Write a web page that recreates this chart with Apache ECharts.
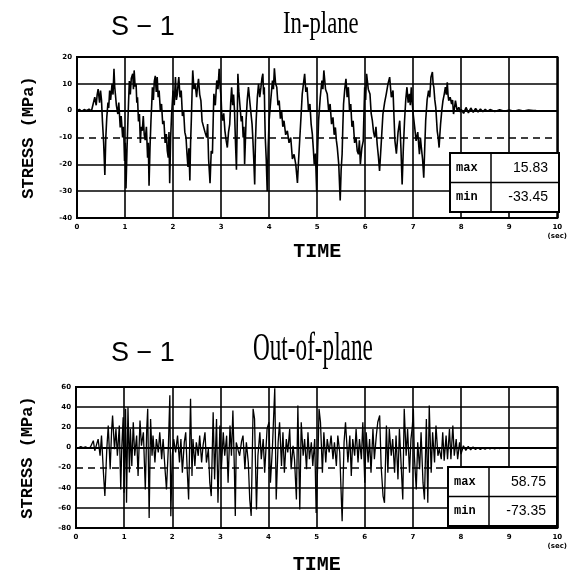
<!DOCTYPE html>
<html><head><meta charset="utf-8">
<script src="https://cdn.jsdelivr.net/npm/echarts@6/dist/echarts.min.js"></script>
<style>html,body{margin:0;padding:0;background:#fff}#c{width:570px;height:578px}</style>
</head><body><div id="c"></div>
<script>
// ---- data ----
const timeTicks = [0,1,2,3,4,5,6,7,8,9,10];
const inPlaneGridValues = [10, 0, -10, -20, -30];
const outPlaneGridValues = [40, 20, 0, -20, -40, -60];
const statLabels = ['max', 'min'];
const inPlaneStats = ['15.83', '-33.45'];
const outPlaneStats = ['58.75', '-73.35'];

const inPlanePoints = [
[0,0],[0.05,0.5],[0.1,-0.3],[0.15,0.4],[0.2,0],[0.25,0.6],[0.3,-0.2],[0.34,0.3],
[0.37,5],[0.40,2],[0.42,6],[0.44,8],[0.47,3],[0.49,7.5],[0.51,4],[0.53,-4],[0.555,-12],[0.58,-24],[0.60,-10],[0.62,-2.5],[0.645,3],[0.66,1],[0.68,7.5],[0.70,4],[0.73,10],[0.75,6],[0.77,15.6],[0.785,9],[0.80,8.75],[0.82,2],[0.85,-1.25],[0.87,3],[0.90,-6.25],[0.92,-2],[0.95,-10],[0.97,-6],[0.99,-18.75],[1.005,-12],[1.02,-29],[1.04,-15],[1.06,-3.75],[1.075,4],[1.09,11],[1.11,6],[1.13,12],[1.16,13.75],[1.175,8],[1.19,15],[1.21,9],[1.23,10],[1.245,3],[1.26,5],[1.28,-4],[1.30,-1.25],[1.32,-12],[1.335,-6],[1.36,-7.5],[1.38,-2],[1.40,-9],[1.42,-11],[1.445,-6],[1.47,-17.5],[1.485,-12],[1.50,-28],[1.52,-14],[1.54,-3.75],[1.555,2],[1.57,8.75],[1.59,4],[1.61,11],[1.63,13],[1.65,7],[1.67,12.5],[1.69,5],[1.71,7.5],[1.735,0],[1.76,2.5],[1.785,-5],[1.81,-3.75],[1.835,-12],[1.86,-8.75],[1.88,-15],[1.90,-17.5],[1.915,-8],[1.93,-27],[1.95,-10],[1.97,-1.25],[1.985,3],[2.00,7.5],[2.025,2],[2.05,12.5],[2.07,4],[2.09,6.25],[2.105,10],[2.12,12.5],[2.145,5],[2.17,7.5],[2.195,-2],[2.22,0],[2.245,-8],[2.27,-10],[2.29,-16],[2.31,-21],[2.33,-14],[2.35,-26],[2.365,-12],[2.38,-3.75],[2.395,6],[2.41,15],[2.435,8],[2.46,10],[2.49,5],[2.51,9],[2.53,11.9],[2.555,6],[2.58,3.75],[2.605,-4],[2.63,-3.75],[2.665,-8],[2.70,-10],[2.72,-5],[2.74,-18],[2.77,-27],[2.795,-15],[2.82,-16],[2.835,-4],[2.85,6.25],[2.88,2],[2.91,11.25],[2.935,8],[2.96,15.6],[2.98,9],[3.00,5],[3.015,-2],[3.03,-3.75],[3.055,-1],[3.08,-7.5],[3.105,-11],[3.13,-13.75],[3.155,-8],[3.18,-5],[3.20,3],[3.22,8.75],[3.24,2],[3.26,6],[3.28,0],[3.30,-12],[3.32,-22],[3.335,-6],[3.35,13.75],[3.37,7],[3.39,2.5],[3.42,-4],[3.44,-2],[3.46,-10],[3.475,-6],[3.49,-20],[3.505,-12],[3.52,-3.75],[3.545,4],[3.57,8.75],[3.60,3],[3.63,2.5],[3.645,-5],[3.66,-10],[3.68,-18],[3.70,-27.5],[3.715,-12],[3.73,-3.75],[3.755,5],[3.78,10],[3.805,5],[3.83,8.75],[3.85,12],[3.87,13.75],[3.885,6],[3.90,8.75],[3.91,-2],[3.92,-10],[3.94,-18],[3.96,-30],[3.98,-14],[4.00,-3.75],[4.035,4],[4.07,11.25],[4.09,8],[4.11,15.83],[4.135,10],[4.16,8.75],[4.185,2],[4.21,3.75],[4.235,-3],[4.26,0],[4.285,-6],[4.31,-3.75],[4.345,-9],[4.38,-7.5],[4.415,-12],[4.45,-10],[4.485,-18],[4.52,-16.25],[4.555,-20],[4.59,-26.9],[4.615,-18],[4.64,-10],[4.665,-2],[4.69,6.25],[4.715,10],[4.74,13.75],[4.765,7],[4.79,8.75],[4.82,0],[4.85,2.5],[4.875,-5],[4.90,-8.75],[4.92,-14],[4.94,-20],[4.965,-16],[4.99,-30],[5.01,-15],[5.03,-3.75],[5.065,5],[5.10,11.25],[5.12,8],[5.14,15],[5.175,8],[5.21,6.25],[5.24,0],[5.27,2.5],[5.30,-5],[5.33,-2.5],[5.355,-9],[5.38,-6.25],[5.40,-11],[5.42,-13.75],[5.45,-20],[5.48,-33.45],[5.50,-22],[5.52,-16.25],[5.535,-6],[5.55,2.5],[5.575,8],[5.60,11.9],[5.625,5],[5.65,8.75],[5.675,0],[5.70,2.5],[5.725,-6],[5.75,-3.75],[5.78,-12],[5.81,-10],[5.835,-15],[5.86,-16.25],[5.88,-11],[5.90,-20],[5.93,-14],[5.96,-11.25],[5.975,-1],[5.99,8.75],[6.01,4],[6.03,13.75],[6.065,8],[6.10,6.25],[6.125,-1],[6.15,-3.75],[6.175,-8],[6.20,-10],[6.225,-6],[6.25,-12.5],[6.275,-17],[6.30,-22.5],[6.335,-12],[6.37,-1.25],[6.405,3],[6.44,6.25],[6.475,10],[6.51,12.5],[6.545,5],[6.58,7.5],[6.60,-2],[6.62,-11.25],[6.65,-16],[6.685,-8],[6.72,-3.75],[6.745,-14],[6.77,-27.5],[6.795,-14],[6.82,-3.75],[6.845,4],[6.87,8.75],[6.895,3],[6.92,6.25],[6.94,2],[6.96,8.75],[6.98,3],[7.00,-1.25],[7.03,-6],[7.06,-11.25],[7.095,-8],[7.13,-16.25],[7.15,-10],[7.17,-13.75],[7.195,-18],[7.22,-25],[7.24,-14],[7.26,-3.75],[7.29,4],[7.32,7.5],[7.345,5],[7.37,12.5],[7.40,14.4],[7.415,10],[7.43,8.75],[7.45,4],[7.47,1.25],[7.485,-3],[7.50,-7.5],[7.52,-10],[7.54,-13.75],[7.555,-9],[7.57,-5],[7.595,0],[7.62,3.75],[7.645,6],[7.67,8.75],[7.69,6],[7.71,10.6],[7.725,6],[7.74,3.75],[7.77,5],[7.80,2.5],[7.82,4],[7.84,-1.25],[7.86,1],[7.88,3.75],[7.915,0],[7.95,1.25],[7.98,-0.5],[8.00,0.5],[8.05,-1],[8.1,1.2],[8.15,-0.8],[8.2,1],[8.25,-0.6],[8.3,0.8],[8.35,-0.5],[8.4,0.6],[8.45,-0.4],[8.5,0.5],[8.55,-0.3],[8.6,0.4],[8.7,-0.3],[8.8,0.3],[8.9,-0.2],[9.0,0.2],[9.1,-0.2],[9.2,0.2],[9.3,-0.1],[9.4,0.2],[9.5,0],[9.56,0]
];

const outPlanePoints = [
[0,0],[0.05,-0.5],[0.1,0.8],[0.15,-0.3],[0.2,0.5],[0.25,-0.8],[0.3,0.4],[0.325,0],
[0.36,6.7],[0.39,-3.3],[0.43,3.3],[0.46,8.3],[0.50,-8.3],[0.53,11.7],[0.57,-25],[0.60,-48.3],[0.64,-1.7],[0.67,21.7],[0.71,-21.7],[0.74,16.7],[0.76,31.7],[0.80,-1.7],[0.83,18.3],[0.86,-8.3],[0.90,21.7],[0.93,-41.7],[0.95,-1.7],[0.98,30],[1.00,-45],[1.03,38.3],[1.05,-55],[1.08,40],[1.11,-25],[1.13,18.3],[1.16,-18.3],[1.19,25],[1.22,-8.3],[1.26,11.7],[1.29,-28.3],[1.33,26.7],[1.36,1.7],[1.40,15],[1.44,-41.7],[1.47,18.3],[1.49,38.3],[1.52,-70],[1.55,28.3],[1.58,-8.3],[1.60,11.7],[1.64,-15],[1.67,8.3],[1.71,-5],[1.74,15],[1.78,-11.7],[1.81,8.3],[1.85,-21.7],[1.88,-41.7],[1.92,1.7],[1.95,51.7],[1.97,-68.3],[2.00,-8.3],[2.03,8.3],[2.07,-5],[2.11,11.7],[2.15,-15],[2.18,8.3],[2.21,-25],[2.25,5],[2.28,15],[2.31,-21.7],[2.34,-51.7],[2.38,48.3],[2.41,-28.3],[2.43,8.3],[2.47,-18.3],[2.50,5],[2.54,-8.3],[2.57,11.7],[2.61,-15],[2.64,1.7],[2.68,15],[2.71,-15],[2.75,-1.7],[2.78,-35],[2.81,-48.3],[2.85,35],[2.88,-31.7],[2.92,28.3],[2.95,-55],[2.99,21.7],[3.02,-21.7],[3.06,15],[3.09,-8.3],[3.13,11.7],[3.16,-35],[3.20,21.7],[3.23,-8.3],[3.26,36.7],[3.29,-20],[3.31,-68],[3.33,5],[3.37,-3],[3.40,-8.3],[3.44,6],[3.47,11.7],[3.51,-21.7],[3.54,5],[3.58,-15],[3.61,-51.7],[3.64,-68],[3.68,38.3],[3.71,28.3],[3.75,-61.7],[3.78,-8.3],[3.82,15],[3.85,-11.7],[3.89,8.3],[3.92,-25],[3.97,18.3],[4.01,25],[4.04,-35],[4.08,-1.7],[4.13,58.75],[4.16,-51.7],[4.20,5],[4.23,25],[4.27,-18.3],[4.30,15],[4.33,-25],[4.37,8.3],[4.40,-5],[4.44,18.3],[4.47,-21.7],[4.51,1.7],[4.54,-11.7],[4.58,-51.7],[4.61,41.7],[4.65,-61.7],[4.68,25],[4.72,-8.3],[4.75,8.3],[4.79,-21.7],[4.82,15],[4.85,-11.7],[4.89,5],[4.92,-18.3],[4.96,8.3],[4.99,-65],[5.03,-5],[5.05,38.3],[5.08,25],[5.12,-25],[5.15,15],[5.19,-15],[5.22,8.3],[5.26,-5],[5.30,11.7],[5.34,-11.7],[5.37,5],[5.41,-18.3],[5.44,11.7],[5.48,-5],[5.53,-73.35],[5.57,5],[5.60,25],[5.65,-15],[5.69,11.7],[5.72,-28.3],[5.75,8.3],[5.79,-8.3],[5.82,18.3],[5.86,-15],[5.89,8.3],[5.93,-11.7],[5.96,25],[6.00,-35],[6.03,15],[6.07,-15],[6.10,8.3],[6.13,-25],[6.17,18.3],[6.20,-11.7],[6.24,11.7],[6.27,25],[6.31,31.7],[6.34,-18.3],[6.38,-48.3],[6.41,-55],[6.45,21.7],[6.48,-25],[6.51,18.3],[6.55,-8.3],[6.58,8.3],[6.62,-25],[6.65,11.7],[6.69,-31.7],[6.72,18.3],[6.76,-21.7],[6.79,-51.7],[6.82,38.3],[6.86,-8.3],[6.89,18.3],[6.93,-25],[6.96,8.3],[6.99,21.7],[7.01,38.3],[7.03,-8.3],[7.07,-41.7],[7.10,5],[7.14,-21.7],[7.17,15],[7.21,-35],[7.24,-51.7],[7.28,28.3],[7.31,-55],[7.34,41.7],[7.38,-25],[7.41,15],[7.45,-15],[7.48,21.7],[7.52,-8.3],[7.55,-1.7],[7.59,-11.7],[7.62,15],[7.65,-13.3],[7.69,11.7],[7.72,-11.7],[7.76,18.3],[7.79,-11.7],[7.83,21.7],[7.86,-8.3],[7.90,8.3],[7.93,-11.7],[7.97,5],[8.00,-6.7],[8.05,1.7],[8.1,-3],[8.15,1],[8.2,-2.5],[8.25,0.5],[8.3,-2],[8.35,0],[8.4,-2],[8.45,-0.5],[8.5,-1.8],[8.55,-0.3],[8.6,-1.5],[8.65,-0.5],[8.7,-1.5],[8.75,-0.5],[8.8,-1.2],[8.85,-0.5],[8.9,-1],[8.95,-0.6],[9.0,-0.8]
];

// ---- styling / layout ----
const mono = "'Liberation Mono', 'DejaVu Sans Mono', monospace";
const serif = "'Liberation Serif', 'DejaVu Serif', serif";
const sans = "'Liberation Sans', 'DejaVu Sans', sans-serif";
const tickFont = { fontSize: 7, fontWeight: 'bold', color: '#000', fontFamily: "'DejaVu Sans', sans-serif" };

function xAxisCfg(gridIndex, nameGap) {
  return {
    type: 'value', gridIndex, min: timeTicks[0], max: timeTicks[timeTicks.length - 1], interval: 1,
    name: 'TIME', nameLocation: 'middle', nameGap,
    nameTextStyle: { fontFamily: mono, fontWeight: 'bold', fontSize: 20, color: '#000' },
    axisLine: { show: true, lineStyle: { color: '#000', width: 2 } },
    axisTick: { show: false },
    axisLabel: Object.assign({ margin: 5, lineHeight: 9,
      formatter: v => v === 10 ? '10\n(sec)' : String(v) }, tickFont),
    splitLine: { show: true, lineStyle: { color: '#000', width: 1.6 } }
  };
}
function yAxisCfg(gridIndex, min, max, interval) {
  return {
    type: 'value', gridIndex, min, max, interval,
    name: 'STRESS (MPa)', nameLocation: 'middle', nameGap: 40, nameRotate: 90,
    nameTextStyle: { fontFamily: mono, fontWeight: 'bold', fontSize: 17, color: '#000' },
    axisLine: { show: true, lineStyle: { color: '#000', width: 2 } },
    axisTick: { show: false },
    axisLabel: Object.assign({ margin: 5 }, tickFont),
    splitLine: { show: false }
  };
}
function gridLines(values, dashedValue) {
  return {
    silent: true, symbol: 'none', animation: false, label: { show: false },
    data: values.map(v => ({ yAxis: v, lineStyle: { color: '#000', width: 1.6, type: v === dashedValue ? [7, 5] : 'solid' } }))
  };
}
function statTable(x, y, w, h, splitX, stats) {
  const rowH = h / 2;
  const children = [
    { type: 'rect', z: 100, shape: { x, y, width: w, height: h }, style: { fill: '#fff', stroke: '#000', lineWidth: 2 } },
    { type: 'line', z: 101, shape: { x1: x + splitX, y1: y, x2: x + splitX, y2: y + h }, style: { stroke: '#000', lineWidth: 1.5 } },
    { type: 'line', z: 101, shape: { x1: x, y1: y + rowH, x2: x + w, y2: y + rowH }, style: { stroke: '#000', lineWidth: 1.5 } }
  ];
  statLabels.forEach((lab, i) => {
    children.push({ type: 'text', z: 102, x: x + 6, y: y + rowH * i + rowH / 2,
      style: { text: lab, fontSize: 12, fontWeight: 'bold', fontFamily: mono, fill: '#000', verticalAlign: 'middle', align: 'left' } });
    children.push({ type: 'text', z: 102, x: x + w - 11, y: y + rowH * i + rowH / 2,
      style: { text: stats[i], fontSize: 14, fontFamily: sans, fill: '#000', verticalAlign: 'middle', align: 'right' } });
  });
  return { type: 'group', children };
}
function titleText(text, x, y, size, family, sx) {
  return { type: 'text', x, y, scaleX: sx, z: 100,
    style: { text, fontSize: size, fontFamily: family, fill: '#000', align: 'left', verticalAlign: 'middle' } };
}

const chart = echarts.init(document.getElementById('c'), null, { renderer: 'canvas' });
chart.setOption({
  animation: false,
  backgroundColor: '#fff',
  grid: [
    { left: 77, top: 57, width: 485, height: 161, show: true, borderColor: '#000', borderWidth: 2, backgroundColor: 'transparent' },
    { left: 76, top: 387, width: 484, height: 141, show: true, borderColor: '#000', borderWidth: 2, backgroundColor: 'transparent' }
  ],
  xAxis: [xAxisCfg(0, 20), xAxisCfg(1, 27)],
  yAxis: [yAxisCfg(0, -40, 20, 10), yAxisCfg(1, -80, 60, 20)],
  series: [
    { type: 'line', xAxisIndex: 0, yAxisIndex: 0, data: inPlanePoints, showSymbol: false, symbol: 'none',
      lineStyle: { color: '#000', width: 1.6 }, markLine: gridLines(inPlaneGridValues, -10) },
    { type: 'line', xAxisIndex: 1, yAxisIndex: 1, data: outPlanePoints, showSymbol: false, symbol: 'none',
      lineStyle: { color: '#000', width: 1.3 }, markLine: gridLines(outPlaneGridValues, -20) }
  ],
  graphic: [
    titleText('S − 1', 111, 28, 27, sans, 1),
    titleText('In-plane', 283, 25, 32, serif, 0.71),
    titleText('S − 1', 111, 354, 27, sans, 1),
    titleText('Out-of-plane', 253, 349, 40, serif, 0.58),
    statTable(450, 153, 109, 59, 41, inPlaneStats),
    statTable(448, 467, 109, 59, 41, outPlaneStats)
  ]
});
</script></body></html>
